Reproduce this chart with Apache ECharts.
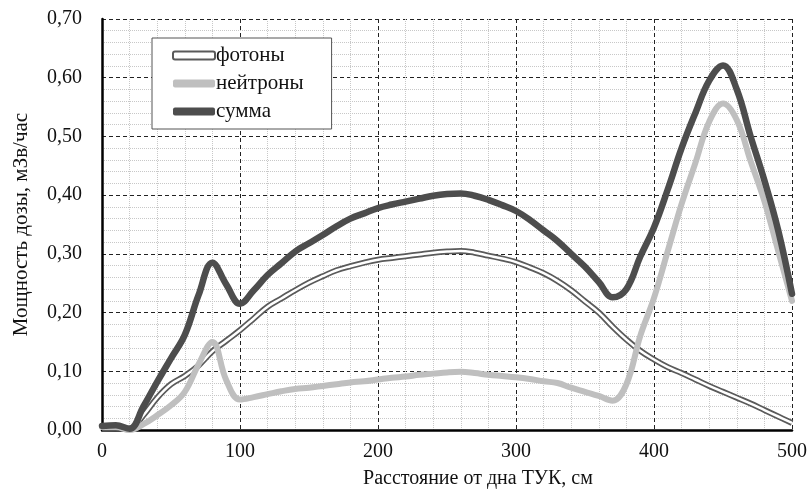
<!DOCTYPE html>
<html lang="ru">
<head>
    <meta charset="UTF-8">
    <title>Мощность дозы</title>
    <script src="https://cdn.jsdelivr.net/npm/echarts@6/dist/echarts.min.js"></script>
    <style>
        html, body { margin: 0; padding: 0; background: #fff; }
        #chart { width: 811px; height: 494px; }
    </style>
</head>
<body>
<div id="chart"></div>
<script>
    // расстояние от дна, см (шаг 10)
    var distance = [];
    for (var i = 0; i <= 50; i++) distance.push(i * 10);

    var photons = [
        0.002, 0.003, 0.002, 0.025, 0.055, 0.078, 0.092, 0.110, 0.134, 0.152,
        0.170, 0.190, 0.210, 0.224, 0.238, 0.251, 0.262, 0.272, 0.279, 0.285,
        0.290, 0.293, 0.296, 0.299, 0.302, 0.304, 0.305, 0.302, 0.297, 0.292,
        0.286, 0.277, 0.267, 0.254, 0.238, 0.219, 0.200, 0.176, 0.154, 0.135,
        0.120, 0.107, 0.097, 0.086, 0.075, 0.065, 0.055, 0.045, 0.034, 0.023,
        0.012
    ];
    var neutrons = [
        0.005, 0.005, 0.000, 0.010, 0.025, 0.042, 0.065, 0.112, 0.150, 0.085,
        0.052, 0.056, 0.061, 0.066, 0.070, 0.072, 0.075, 0.078, 0.081, 0.083,
        0.086, 0.089, 0.091, 0.094, 0.096, 0.098, 0.099, 0.097, 0.094, 0.092,
        0.090, 0.087, 0.083, 0.080, 0.072, 0.065, 0.058, 0.050, 0.078, 0.160,
        0.225, 0.305, 0.385, 0.455, 0.525, 0.556, 0.528, 0.458, 0.390, 0.305,
        0.220
    ];
    var total = [
        0.007, 0.008, 0.002, 0.040, 0.082, 0.122, 0.162, 0.230, 0.285, 0.248,
        0.215, 0.238, 0.264, 0.284, 0.304, 0.318, 0.332, 0.347, 0.360, 0.369,
        0.378, 0.384, 0.389, 0.394, 0.399, 0.402, 0.403, 0.399, 0.392, 0.383,
        0.373, 0.358, 0.340, 0.322, 0.300, 0.278, 0.252, 0.226, 0.240, 0.295,
        0.345, 0.410, 0.480, 0.540, 0.595, 0.621, 0.580, 0.500, 0.425, 0.340,
        0.232
    ];
    var seriesNames = ['фотоны', 'нейтроны', 'сумма'];

    function pairs(ys) {
        return distance.map(function (x, i) { return [x, ys[i]]; });
    }

    var serif = '"Liberation Serif", "DejaVu Serif", serif';
    var chart = echarts.init(document.getElementById('chart'));

    var option = {
        animation: false,
        backgroundColor: '#fff',
        textStyle: { fontFamily: serif },
        grid: { left: 102, right: 19, top: 19, bottom: 64 },
        legend: {
            orient: 'vertical',
            left: 152, top: 38,
            width: 150,
            padding: [7, 28, 7, 20],
            backgroundColor: '#fff',
            borderColor: '#555',
            borderWidth: 1,
            borderRadius: 0,
            itemWidth: 42, itemHeight: 8,
            itemGap: 7,
            textStyle: { fontFamily: serif, fontSize: 21, color: '#111', padding: [0, 0, 0, -4] },
            data: [
                { name: seriesNames[0], icon: 'roundRect', itemStyle: { color: '#fff', borderColor: '#5a5a5a', borderWidth: 2 } },
                { name: seriesNames[1], icon: 'roundRect', itemStyle: { color: '#bfbfbf' } },
                { name: seriesNames[2], icon: 'roundRect', itemStyle: { color: '#4d4d4d' } }
            ]
        },
        xAxis: {
            type: 'value',
            min: 0, max: 500, interval: 100,
            name: 'Расстояние от дна ТУК, см',
            nameLocation: 'middle',
            nameGap: 39,
            nameTextStyle: { fontFamily: serif, fontSize: 20, color: '#111', padding: [0, 0, 0, 62] },
            axisLine: { lineStyle: { color: '#000', width: 2.5 } },
            axisTick: { show: false },
            axisLabel: { fontFamily: serif, fontSize: 20, color: '#111', margin: 12 },
            splitLine: { show: true, lineStyle: { color: '#222', type: [4, 3], width: 1 } },
            minorTick: { show: false, splitNumber: 5 },
            minorSplitLine: { show: true, lineStyle: { color: '#c8c8c8', type: [1, 1], width: 1 } }
        },
        yAxis: {
            type: 'value',
            min: 0, max: 0.7, interval: 0.1,
            name: 'Мощность дозы, мЗв/час',
            nameLocation: 'middle',
            nameGap: 70,
            nameRotate: 90,
            nameTextStyle: { fontFamily: serif, fontSize: 21, color: '#111' },
            axisLine: { show: true, lineStyle: { color: '#000', width: 2.5 } },
            axisTick: { show: false },
            axisLabel: {
                fontFamily: serif, fontSize: 20, color: '#111', margin: 20,
                formatter: function (v) { return v.toFixed(2).replace('.', ','); }
            },
            splitLine: { show: true, lineStyle: { color: '#222', type: [4, 3], width: 1 } },
            minorTick: { show: false, splitNumber: 5 },
            minorSplitLine: { show: true, lineStyle: { color: '#c8c8c8', type: [1, 1], width: 1 } }
        },
        series: [
            {
                name: seriesNames[0],
                type: 'line', smooth: 0.4, symbol: 'none',
                color: '#5a5a5a',
                lineStyle: { color: '#5a5a5a', width: 6 },
                data: pairs(photons), z: 3
            },
            {
                name: 'фотоны-внутр',
                type: 'line', smooth: 0.4, symbol: 'none',
                lineStyle: { color: '#fff', width: 2.5 },
                data: pairs(photons), z: 4, silent: true
            },
            {
                name: seriesNames[1],
                type: 'line', smooth: 0.4, symbol: 'none',
                color: '#bfbfbf',
                lineStyle: { color: '#bfbfbf', width: 6, cap: 'round', join: 'round' },
                data: pairs(neutrons), z: 5
            },
            {
                name: seriesNames[2],
                type: 'line', smooth: 0.4, symbol: 'none',
                color: '#4d4d4d',
                lineStyle: { color: '#4d4d4d', width: 6.5, cap: 'round', join: 'round' },
                data: pairs(total), z: 6
            }
        ]
    };
    chart.setOption(option);
</script>
</body>
</html>
